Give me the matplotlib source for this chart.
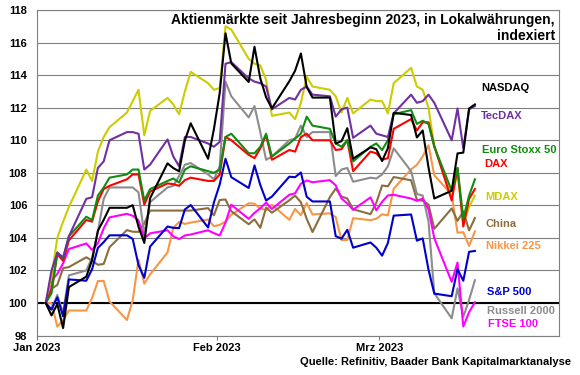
"""
Aktienmärkte seit Jahresbeginn 2023 - indexed equity indices in local currency
"""

import matplotlib
matplotlib.use("Agg")
import matplotlib.pyplot as plt
import pandas as pd


# trading days Jan 2 - Mar 17 2023
dates = pd.bdate_range("2023-01-02", "2023-03-17")

nasdaq = [100, 99.24, 99.93, 98.46, 100.98, 101.62, 102.64, 104.44, 105.11, 105.85, 105.85,
          106.01, 104.69, 103.69, 106.44, 108.58, 108.29, 108.09, 109.99, 111.04, 108.86,
          110.68, 112.90, 116.57, 114.72, 113.58, 115.74, 113.80, 112.64, 111.96, 113.62,
          114.27, 115.33, 113.27, 112.62, 112.62, 109.80, 109.94, 110.74, 108.87, 109.56,
          109.45, 108.72, 109.52, 111.68, 111.55, 110.17, 110.60, 108.33, 106.42, 106.90,
          109.19, 109.24, 111.95, 112.20]
tecdax = [100, 102.0, 103.1, 102.8, 104.1, 106.4, 106.5, 108.3, 108.7, 110.0, 110.5,
          110.5, 110.4, 108.2, 108.5, 110.05, 109.0, 108.4, 110.2, 110.2, 109.8,
          109.6, 109.9, 114.7, 114.8, 113.8, 113.6, 113.5, 113.3, 111.9, 112.6,
          112.5, 113.1, 113.3, 112.8, 112.7, 111.45, 111.9, 112.0, 110.15, 110.9,
          110.4, 110.3, 110.2, 111.65, 112.8, 112.3, 112.4, 112.8, 112.3, 110.0,
          111.95, 109.5, 111.9, 112.1]
eurostoxx = [100, 100.6, 103.1, 102.75, 104.1, 105.3, 105.1, 106.6, 107.1, 107.7, 107.9,
             108.2, 108.2, 106.3, 107.0, 107.5, 107.65, 107.4, 108.2, 108.4, 108.1,
             108.0, 108.2, 110.2, 110.4, 109.2, 109.2, 109.6, 110.4, 109.0, 109.8,
             110.1, 110.4, 111.45, 110.9, 110.7, 109.8, 109.6, 110.0, 108.7, 109.6,
             109.8, 109.4, 110.0, 111.6, 111.85, 111.0, 111.2, 111.0, 109.6, 106.9,
             108.3, 105.2, 106.6, 107.6]
dax = [100, 100.8, 103.0, 102.6, 103.85, 105.1, 105.0, 106.25, 107.0, 107.2, 107.6,
       107.9, 107.9, 106.05, 106.85, 107.35, 107.3, 107.2, 107.55, 107.7, 107.5,
       107.5, 107.9, 110.2, 110.0, 109.1, 108.9, 109.5, 110.3, 108.8, 109.4,
       109.3, 110.2, 110.4, 110.0, 110.0, 109.4, 109.45, 110.0, 108.1, 109.3,
       109.2, 108.8, 108.9, 110.7, 111.3, 110.6, 111.1, 111.1, 109.65, 106.3,
       108.3, 104.7, 106.4, 107.0]
mdax = [100, 101.6, 104.0, 105.0, 105.9, 108.2, 107.5, 109.3, 110.2, 110.8, 111.7,
        112.4, 113.1, 110.3, 111.8, 112.6, 112.2, 111.6, 113.0, 114.2, 113.5,
        113.1, 113.2, 117.0, 116.8, 115.0, 114.7, 114.6, 113.7, 111.5, 111.7,
        111.3, 112.3, 113.9, 113.3, 113.1, 112.7, 111.7, 112.6, 111.65, 112.5,
        112.4, 112.4, 111.65, 113.5, 114.45, 113.3, 113.1, 112.0, 109.6, 106.5,
        108.0, 104.9, 105.9, 106.6]
china = [100, 100.88, 101.11, 102.14, 102.21, 102.81, 102.60, 102.35, 102.40, 103.43, 104.48,
         104.38, 104.37, 104.89, 105.68, 105.68, 105.68, 105.68, 105.68, 105.68, 105.83,
         105.39, 106.33, 106.36, 105.64, 104.84, 105.14, 104.62, 105.86, 105.55, 106.31,
         106.60, 106.19, 105.17, 104.36, 106.51, 107.03, 106.54, 106.42, 105.76, 105.46,
         106.16, 107.22, 107.17, 107.74, 107.54, 106.34, 106.28, 106.05, 104.56, 105.81,
         105.05, 105.63, 104.46, 105.22]
nikkei = [100, 100, 98.55, 98.95, 99.54, 99.54, 100.31, 101.35, 101.36, 100.10, 98.96,
          100.17, 102.67, 101.19, 101.76, 103.11, 104.62, 104.98, 104.86, 104.94, 105.13,
          104.72, 104.80, 105.01, 105.42, 106.13, 106.10, 105.80, 105.71, 106.04, 105.11,
          105.78, 105.39, 106.14, 105.44, 105.51, 105.28, 103.87, 103.87, 105.21, 105.09,
          105.18, 105.45, 105.38, 107.02, 108.21, 108.49, 109.01, 109.69, 107.85, 106.66,
          104.32, 104.35, 103.51, 104.40]
sp500 = [100, 99.60, 100.35, 99.18, 101.45, 101.37, 102.08, 103.39, 103.74, 104.16, 104.16,
         103.94, 102.33, 101.55, 103.47, 104.70, 104.62, 104.60, 105.75, 106.02, 104.64,
         106.18, 107.28, 108.86, 107.73, 107.07, 108.45, 107.25, 106.30, 106.54, 107.76,
         107.73, 108.02, 106.53, 106.24, 106.24, 104.11, 103.95, 104.50, 103.40, 103.72,
         103.40, 102.91, 103.69, 105.37, 105.44, 103.83, 103.97, 102.05, 100.58, 100.42,
         102.08, 101.37, 103.15, 103.20]
russell = [100, 99.6, 100.5, 99.4, 101.7, 102.0, 102.8, 104.4, 106.4, 107.1, 107.1,
           107.1, 106.8, 104.2, 106.2, 107.1, 107.2, 107.8, 108.5, 108.6, 107.9,
           107.6, 108.4, 113.6, 112.7, 111.4, 112.1, 110.5, 108.8, 109.0, 110.0,
           110.1, 110.9, 110.2, 110.5, 110.5, 107.8, 108.2, 108.3, 107.45, 107.7,
           107.65, 107.9, 108.4, 109.5, 108.1, 106.7, 106.6, 105.0, 100.6, 99.06,
           100.9, 99.15, 100.2, 101.4]
ftse = [100, 101.37, 101.79, 102.44, 103.32, 103.66, 103.26, 103.67, 104.59, 105.26, 105.48,
        105.36, 105.08, 103.97, 104.28, 104.47, 104.10, 103.93, 104.15, 104.21, 104.47,
        104.29, 104.15, 104.94, 106.04, 105.17, 105.54, 105.82, 106.17, 105.78, 106.65,
        106.74, 107.33, 107.53, 107.42, 107.55, 107.23, 106.42, 106.12, 105.73, 106.49,
        105.70, 106.22, 106.61, 106.65, 106.42, 106.28, 106.42, 105.75, 103.98, 101.30,
        102.49, 98.56, 99.44, 100.05]

month_ticks = ["2023-01-01", "2023-02-01", "2023-03-01"]
month_labels = ["Jan 2023", "Feb 2023", "Mrz 2023"]


def plot_index_chart(save_path="out.png"):
    """Line chart of the indexed equity markets with labels on the right"""

    plt.rcParams["font.family"] = ["Liberation Sans", "DejaVu Sans"]
    plt.rcParams["font.weight"] = "bold"

    fig = plt.figure(figsize=(5.8, 3.75), dpi=100)
    ax = fig.add_axes([37 / 580, 1 - 335.6 / 375, 522 / 580, 325.6 / 375])

    # name, values, colour, label y (index points), label x (axes fraction)
    series = [
        ("Nikkei 225", nikkei, "#f79646", 103.5, 0.860),
        ("China", china, "#8c6d3c", 104.85, 0.860),
        ("Russell 2000", russell, "#8c8c8c", 99.5, 0.862),
        ("FTSE 100", ftse, "#ff00ff", 98.7, 0.864),
        ("S&P 500", sp500, "#0000cc", 100.7, 0.863),
        ("MDAX", mdax, "#cccc00", 106.5, 0.858),
        ("DAX", dax, "#ff0000", 108.55, 0.856),
        ("Euro Stoxx 50", eurostoxx, "#108c10", 109.4, 0.852),
        ("TecDAX", tecdax, "#7030a0", 111.5, 0.851),
        ("NASDAQ", nasdaq, "#000000", 113.2, 0.851),
    ]

    x = dates + pd.Timedelta(hours=12)
    for name, values, color, ly, lx in series:
        ax.plot(x, values, color=color, lw=1.5, zorder=3)
        ax.text(lx, ly, name, color=color, fontsize=8, fontweight="bold",
                va="center", ha="left", transform=ax.get_yaxis_transform())

    ax.axhline(100, color="black", lw=1.5, zorder=2)

    ax.set_ylim(98, 118)
    ax.set_yticks(range(98, 119, 2))
    ax.grid(axis="y", color="#7f7f7f", lw=0.8, zorder=1)
    ax.set_xlim(pd.Timestamp("2023-01-01"), pd.Timestamp("2023-04-01"))
    ax.set_xticks(pd.to_datetime(month_ticks))
    ax.set_xticklabels(month_labels)

    ax.tick_params(axis="y", length=0, pad=7, labelsize=8)
    ax.tick_params(axis="x", length=3, pad=2.5, labelsize=8, color="#7f7f7f")
    for spine in ax.spines.values():
        spine.set_color("#7f7f7f")
        spine.set_linewidth(0.8)

    ax.text(0.992, 0.99, "Aktienmärkte seit Jahresbeginn 2023, in Lokalwährungen,\nindexiert",
            transform=ax.transAxes, ha="right", va="top", fontsize=10,
            fontweight="bold", multialignment="right", linespacing=1.15)

    fig.text(571 / 580, 1 - 362 / 375, "Quelle: Refinitiv, Baader Bank Kapitalmarktanalyse",
             ha="right", va="center", fontsize=8, fontweight="bold")

    plt.savefig(save_path, dpi=100)
    print(f"Saved: {save_path}")


if __name__ == "__main__":
    plot_index_chart("out.png")
